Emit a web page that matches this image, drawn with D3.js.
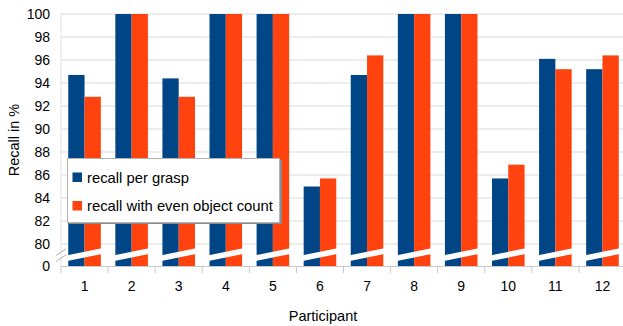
<!DOCTYPE html>
<html>
<head>
<meta charset="utf-8">
<script src="https://cdn.jsdelivr.net/npm/d3@7"></script>
<style>
  html, body { margin: 0; padding: 0; background: #fff; }
  svg { display: block; font-family: "Liberation Sans", Arial, sans-serif; }
</style>
</head>
<body>
<svg id="chart" width="623" height="326"></svg>
<script>
// Recall per participant, two measures
const participants = ["1","2","3","4","5","6","7","8","9","10","11","12"];
const seriesNames = ["recall per grasp", "recall with even object count"];
const recallPerGrasp = [94.7, 100, 94.4, 100, 100, 85.0, 94.7, 100, 100, 85.7, 96.1, 95.2];
const recallEvenCount = [92.8, 100, 92.8, 100, 100, 85.7, 96.4, 100, 100, 86.9, 95.2, 96.4];
const yTicks = [0, 80, 82, 84, 86, 88, 90, 92, 94, 96, 98, 100];
const seriesColors = ["#004586", "#ff420e"];

const svg = d3.select("#chart");
const plot = { left: 61, right: 626, top: 14, bottom: 266 };

// Broken value axis: 0 sits one tick step below 80
const y = d3.scaleLinear()
  .domain([0, 80, 100])
  .range([plot.bottom, plot.bottom - 22, plot.top]);

const x = d3.scaleBand().domain(participants).range([plot.left, plot.right]);
const bw = x.bandwidth();
const xs = d3.scaleBand().domain(seriesNames).range([bw * 0.154, bw * 0.846]);

const rows = participants.map((p, i) => ({
  p, values: [recallPerGrasp[i], recallEvenCount[i]]
}));

// Grid lines
svg.append("g")
  .selectAll("line")
  .data(yTicks.filter(d => d > 0))
  .join("line")
  .attr("x1", plot.left).attr("x2", plot.right)
  .attr("y1", d => y(d)).attr("y2", d => y(d))
  .attr("stroke", "#dcdcdc").attr("stroke-width", 1.2);

// Axis lines and ticks
const axisColor = "#c8c8c8";
svg.append("line")
  .attr("x1", plot.left).attr("x2", plot.left)
  .attr("y1", plot.top).attr("y2", plot.bottom)
  .attr("stroke", "#e2e2e2");
svg.append("line")
  .attr("x1", plot.left).attr("x2", plot.right)
  .attr("y1", plot.bottom + 0.5).attr("y2", plot.bottom + 0.5)
  .attr("stroke", axisColor);
svg.append("g")
  .selectAll("line")
  .data(participants.concat(["end"]))
  .join("line")
  .attr("x1", (d, i) => plot.left + i * bw)
  .attr("x2", (d, i) => plot.left + i * bw)
  .attr("y1", plot.bottom).attr("y2", plot.bottom + 7)
  .attr("stroke", axisColor);

// Bars
const groups = svg.append("g")
  .selectAll("g")
  .data(rows)
  .join("g")
  .attr("transform", d => `translate(${x(d.p)},0)`);

groups.selectAll("rect")
  .data(d => d.values.map((v, k) => ({ v, k })))
  .join("rect")
  .attr("x", d => xs(seriesNames[d.k]))
  .attr("width", xs.bandwidth())
  .attr("y", d => y(d.v))
  .attr("height", d => y(0) - y(d.v))
  .attr("fill", d => seriesColors[d.k]);

// Break marks cutting through each bar pair
const breakMid = (y(0) + y(80)) / 2;
const rise = 6.7, gap = 5.8;
groups.append("path")
  .attr("d", () => {
    const x0 = xs(seriesNames[0]) - 1, x1 = xs(seriesNames[1]) + xs.bandwidth() + 1;
    const yl = breakMid + 3.2, yr = yl - rise * (x1 - x0) / 32.6;
    return `M${x0},${yl - gap / 2}L${x1},${yr - gap / 2}L${x1},${yr + gap / 2}L${x0},${yl + gap / 2}Z`;
  })
  .attr("fill", "#fff");

// Break marks on the value axis
[0, 1].forEach(j => {
  const yl = breakMid + 0.5 + j * 6;
  svg.append("line")
    .attr("x1", plot.left - 5).attr("y1", yl)
    .attr("x2", plot.left + 5).attr("y2", yl - 6.7)
    .attr("stroke", "#b3b3b3").attr("stroke-width", 1);
});

// Y tick labels
svg.append("g")
  .selectAll("text")
  .data(yTicks)
  .join("text")
  .attr("x", 50)
  .attr("y", d => y(d) + 5)
  .attr("text-anchor", "end")
  .attr("font-size", 14)
  .attr("fill", "#000")
  .text(d => d);

// X tick labels
svg.append("g")
  .selectAll("text")
  .data(participants)
  .join("text")
  .attr("x", d => x(d) + bw / 2)
  .attr("y", 291)
  .attr("text-anchor", "middle")
  .attr("font-size", 14)
  .text(d => d);

// Axis titles
svg.append("text")
  .attr("x", 323).attr("y", 321)
  .attr("text-anchor", "middle")
  .attr("font-size", 14.5)
  .text("Participant");
svg.append("text")
  .attr("transform", "translate(19,140) rotate(-90)")
  .attr("text-anchor", "middle")
  .attr("font-size", 14.5)
  .text("Recall in %");

// Legend
const lg = svg.append("g").attr("transform", "translate(67.5,158.5)");
lg.append("rect").attr("x", 1.5).attr("y", 1.5).attr("width", 213).attr("height", 64)
  .attr("fill", "#8a8a8a");
lg.append("rect").attr("width", 212).attr("height", 64)
  .attr("fill", "#fff").attr("stroke", "#b3b3b3");
const items = lg.selectAll("g.item")
  .data(seriesNames)
  .join("g")
  .attr("class", "item")
  .attr("transform", (d, i) => `translate(5,${14 + i * 28.5})`);
items.append("rect")
  .attr("width", 9.5).attr("height", 9.5)
  .attr("fill", (d, i) => seriesColors[i]);
items.append("text")
  .attr("x", 14.5).attr("y", 10)
  .attr("font-size", 14.8)
  .text(d => d);
</script>
</body>
</html>
